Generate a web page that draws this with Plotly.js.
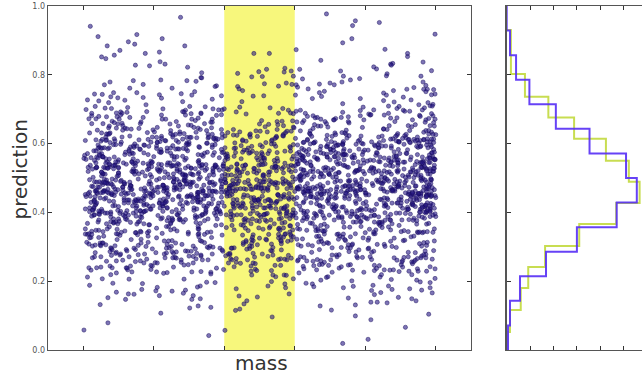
<!DOCTYPE html>
<html><head><meta charset="utf-8">
<script src="https://cdn.plot.ly/plotly-3.0.1.min.js"></script>
<style>html,body{margin:0;padding:0;overflow:hidden;background:#fff}#chart{width:700px;height:376px}</style>
</head><body><div id="chart"></div>
<script>
// mass values (x 100)
const massCenti = [
412,137,288,563,205,471,349,596,118,330,254,509,177,442,381,225,598,296,153,527,
364,102,479,250,587,311,198,433,143,556,270,395,488,161,222,534,313,109,451,372,
241,515,129,377,592,186,462,302,547,214,425,341,582,107,268,496,156,389,233,575,
318,447,174,539,282,121,406,590,237,363,498,145,259,571,336,193,427,115,482,352,
568,209,393,131,456,276,522,348,164,599,245,417,103,304,553,189,374,486,226,141,
437,292,580,172,345,513,120,401,265,474,587,208,329,150,541,418,263,385,112,506,
196,355,469,127,247,558,387,306,592,181,438,218,529,339,459,124,283,376,571,244,
503,141,317,412,585,232,367,169,494,277,551,106,398,220,341,477,593,158,286,430,
275,586,199,351,135,446,521,298,180,404,574,239,322,461,117,545,367,212,490,381,
129,420,264,537,366,101,453,304,198,581,341,147,476,256,593,213,386,519,166,309,
551,224,378,469,133,295,409,572,185,338,248,507,119,431,360,597,205,282,444,164,
397,176,512,287,591,143,336,463,230,578,122,419,303,534,192,450,261,369,104,556,
214,483,346,155,531,400,268,113,588,327,446,171,243,515,380,138,599,294,422,251,
560,318,108,437,263,584,196,371,523,149,288,468,229,346,575,125,403,187,497,339,
172,399,548,235,481,116,357,266,596,413,152,319,539,208,453,384,278,128,571,447,
333,127,466,574,206,392,297,516,161,437,587,253,364,110,489,227,349,545,178,411,
487,264,153,362,594,220,431,118,542,311,385,202,574,279,139,468,346,523,241,404,
146,579,323,251,416,107,498,368,226,561,185,438,297,524,377,159,592,281,459,215,
391,237,508,135,322,553,276,441,190,376,103,586,459,264,341,519,174,428,303,567,
262,455,111,384,587,307,167,474,245,528,358,132,596,218,433,291,549,386,154,481,
528,175,348,442,203,563,121,395,299,467,248,580,334,186,410,112,536,270,358,497,
117,395,561,276,149,485,338,229,600,413,167,520,283,452,105,364,232,575,421,314,
446,284,196,531,373,128,591,256,418,343,483,208,148,556,395,267,502,181,330,576,
309,589,432,165,262,508,384,142,460,223,571,297,413,126,538,352,255,439,592,193,
583,139,271,403,547,313,219,489,371,110,328,594,246,457,182,519,406,137,284,365,
217,482,347,121,455,279,567,191,330,526,421,159,388,245,583,301,468,214,553,104,
365,247,590,318,184,424,106,509,272,596,157,377,476,318,231,548,140,442,263,493,
492,129,226,562,397,171,344,473,115,283,533,402,194,586,354,123,267,579,179,418,
158,541,413,288,504,232,597,145,432,367,204,479,316,101,451,237,384,528,310,566,
436,320,174,478,131,386,253,551,326,189,599,261,146,407,565,281,513,196,373,229,
579,207,358,243,522,447,169,294,600,115,393,536,228,343,178,495,419,286,137,512,
269,462,125,590,308,209,523,375,436,249,133,468,562,197,327,398,111,588,246,445,
119,375,501,156,436,584,273,331,211,494,359,583,150,277,417,241,547,355,468,163,
545,236,394,318,109,552,186,427,564,148,290,212,407,536,366,126,458,232,324,594,
352,595,175,461,243,327,499,117,382,274,573,435,188,351,505,285,164,576,413,140,
201,441,280,537,389,134,228,470,557,313,165,398,242,592,122,452,337,219,549,288,
476,132,559,224,160,458,373,598,254,143,479,296,525,216,362,589,237,404,134,372,
300,521,411,103,357,269,574,192,423,505,221,364,114,448,278,176,531,391,253,467,
587,260,162,428,533,208,314,367,138,571,404,258,493,330,553,199,301,152,485,214,
144,394,477,287,592,340,435,227,513,182,297,576,131,412,249,468,383,562,337,106,
426,211,337,558,172,501,121,381,292,448,224,531,363,157,586,305,214,473,259,587,
257,568,127,404,309,237,466,565,158,358,478,110,243,546,398,127,432,343,181,529,
533,174,494,260,445,390,193,284,599,235,139,404,322,486,215,367,559,118,441,312,
182,339,581,150,236,557,408,136,339,519,373,584,196,269,430,577,253,491,204,380,
413,550,219,384,517,116,263,487,422,168,264,450,575,132,339,237,478,310,596,155,
345,104,453,597,328,181,535,349,219,445,593,174,296,426,103,519,392,147,272,533,
568,290,365,211,142,472,299,587,122,350,210,526,383,244,555,288,168,561,418,226,
236,476,152,513,403,586,204,408,527,263,495,325,133,512,446,179,594,341,491,307,
134,383,581,275,538,244,446,161,375,580,149,386,241,471,317,564,206,434,126,548,
487,211,331,443,126,368,558,296,253,196,413,577,264,138,393,453,287,513,237,377,
301,547,187,596,256,423,115,339,468,532,303,166,449,598,228,144,377,259,588,460,
566,144,425,326,482,171,520,225,590,108,360,244,518,384,276,537,415,169,340,195,
219,402,260,136,367,589,284,475,155,438,569,401,197,302,579,247,120,486,401,556,
442,592,359,487,219,313,141,545,379,253,186,492,334,561,148,424,362,566,210,282,
128,275,513,191,572,407,450,189,296,527,324,130,594,236,459,331,542,224,458,119,
380,496,232,410,293,134,540,372,600,144,455,273,387,175,497,211,296,395,173,524,
545,171,580,313,468,236,382,219,458,349,562,209,126,422,311,578,187,263,534,357,
273,349,116,548,156,501,267,594,117,257,402,540,335,268,536,446,125,439,301,467,
491,227,422,266,387,585,159,327,493,579,181,354,472,119,248,374,531,212,598,135,
154,560,297,508,213,440,344,492,234,397,130,599,222,554,369,167,459,333,241,417,
397,192,467,133,599,283,516,140,418,326,487,289,150,406,283,597,251,577,145,500,
323,431,240,367,541,175,412,211,567,162,272,425,516,237,464,125,348,406,490,266,
580,118,544,223,316,457,200,380,301,493,218,560,305,582,190,520,423,159,328,594,
197,529,350,463,109,392,569,446,183,586,376,143,457,145,332,248,567,289,446,213,
454,266,180,583,245,525,305,132,533,254,462,388,217,487,571,395,109,514,185,357,
262,376,504,315,489,160,448,249,363,137,547,238,350,128,263,445,311,230,558,431,
515,141,274,422,573,207,332,597,283,492,176,321,593,409,165,544,483,380,116,246,
140,484,588,186,351,477,111,404,162,429,296,516,122,285,433,204,348,571,470,303,
364,232,413,546,266,119,595,256,527,218,394,149,449,546,308,275,579,134,237,539,
592,319,162,291,432,347,205,485,391,350,588,260,373,193,500,130,412,299,518,178,
205,451,535,147,511,273,544,168,317,573,116,437,266,342,216,583,252,462,355,441,
431,123,390,579,199,418,338,573,124,443,287,565,183,511,377,422,156,548,208,114,
356,587,233,361,124,556,246,314,466,214,521,357,154,474,260,592,178,393,506,280,
118,270,468,224,542,388,108,423,594,151,340,481,233,553,124,337,486,267,413,568,
478,403,149,524,317,195,471,128,267,375,226,579,408,299,181,526,362,443,135,321,
247,512,389,163,574,305,441,128,596,357,219,483,138,426,551,272,394,187,530,316,
452,186,327,569,241,408,113,493,356,224,587,139,462,301,178,545,374,263,118,437,
169,538,421,284,106,362,579,245,468,197,340,512,153,597,386,232,479,325,564,208,
584,298,153,473,392,521,231,346,133,555,412,278,594,167,448,359,126,501,287,415,
331,447,592,209,138,381,486,572,254,419,117,365,529,234,306,471,583,195,440,152,
206,366,479,541,319,162,598,274,417,107,493,226,346,581,129,383,256,537,402,469,
473,123,259,386,457,593,334,184,526,289,562,413,197,268,497,148,429,308,585,244,
115,579,404,277,216,488,147,432,371,590,253,136,474,555,340,217,569,112,354,509,
398,241,536,156,595,263,517,306,171,466,330,588,254,414,182,533,287,449,226,582,
547,316,182,426,352,135,401,563,481,234,150,507,389,125,571,312,403,238,495,176,
262,428,573,339,494,228,160,455,112,328,539,277,451,589,249,462,141,376,571,321,
438,158,311,588,169,552,387,243,510,599,436,185,312,468,204,594,340,521,163,409,
126,507,442,212,281,405,598,141,337,181,266,469,569,353,133,426,218,598,304,541,
561,287,215,497,537,313,254,592,208,455,384,121,228,489,379,285,511,147,436,266,
342,586,139,368,425,178,481,377,554,117,509,326,583,172,541,109,394,272,565,188,
194,403,527,250,131,566,333,209,427,296,167,581,437,264,314,457,236,488,119,356,
519,174,385,580,296,449,106,519,289,532,407,249,160,522,405,232,586,355,213,498,
277,459,239,137,488,374,596,172,462,355,254,495,355,143,596,363,170,431,541,134,
405,123,564,322,210,527,246,438,131,580,193,396,538,293,226,514,385,127,302,578,
582,351,177,469,578,159,413,347,519,241,448,144,470,409,181,567,276,460,192,427,
150,436,293,519,242,399,524,122,310,411,576,308,204,561,325,433,153,395,503,241,
423,220,491,146,375,592,281,445,587,166,358,482,130,376,504,135,532,270,586,332,
307,545,356,592,453,129,352,586,198,459,227,554,263,497,149,391,248,598,118,465,
536,171,408,265,159,486,201,373,281,512,135,322,456,219,577,302,477,341,410,275,
229,398,131,437,513,262,573,140,423,304,489,194,593,354,264,458,114,224,547,189,
471,268,583,205,386,334,426,509,175,566,268,438,122,531,407,187,364,513,283,437,
113,505,350,471,109,557,165,297,476,246,397,582,345,198,472,536,289,154,396,563,
384,228,437,132,599,419,314,210,568,133,524,173,478,299,138,248,426,575,235,147,
565,335,189,561,278,143,492,381,245,432,311,267,545,412,561,375,193,462,523,318,
256,487,544,314,429,536,227,552,137,385,597,416,215,121,326,498,581,119,371,486,
418,149,271,408,183,295,386,125,467,521,186,537,363,584,203,145,415,290,456,211,
139,592,463,243,557,407,575,328,252,597,329,122,493,269,434,563,239,506,173,560,
502,305,112,526,328,190,150,471,394,166,458,287,174,436,574,297,370,551,326,398,
318,455,397,171,494,583,442,217,549,263,116,486,395,547,112,459,146,261,591,127,
590,213,229,576,139,354,264,585,128,440,378,210,562,318,282,389,527,430,245,476,
187,373,554,324,412,228,516,346,481,205,587,349,143,448,512,166,338,595,137,383,
441,124,295,473,262,598,171,419,300,538,263,435,527,171,369,594,221,108,412,528,
276,527,435,118,591,324,479,143,567,331,151,569,301,233,462,283,548,388,196,251,
535,284,150,398,437,193,353,505,231,396,492,216,408,587,156,427,119,470,316,589,
161,416,569,252,186,465,592,278,418,112,343,530,139,368,517,246,353,205,544,164,
401,592,338,545,301,128,242,556,162,486,219,402,587,274,424,132,573,309,464,353,
212,169,482,153,499,378,527,398,342,590,429,126,256,499,191,543,261,496,127,416,
579,361,221,437,578,252,111,192,508,271,164,559,355,143,583,372,438,233,564,283,
323,504,403,284,113,548,405,469,134,411,546,319,460,537,310,204,184,599,346,508,
458,137,577,345,226,414,166,336,595,229,382,247,123,401,227,477,590,147,410,176,
132,433,259,509,572,159,476,581,257,456,103,493,578,208,469,555,316,267,547,447,
497,312,456,168,347,531,297,221,398,175,528,360,279,567,146,326,422,524,288,116,
264,559,109,578,435,285,587,357,123,561,313,445,158,392,536,261,145,389,469,592,
546,199,394,297,165,437,128,476,512,319,194,586,416,318,250,413,501,174,233,342,
366,476,528,216,539,361,239,146,284,476,427,268,542,179,384,587,213,566,362,452
];
// prediction values (x 1000)
const predMilli = [
468,532,391,178,604,447,355,519,672,412,486,263,549,752,383,301,575,458,692,521,
437,566,329,598,402,481,244,519,371,623,456,811,388,540,297,652,417,495,583,246,
512,349,463,688,196,421,557,274,606,439,368,738,498,531,316,647,474,405,562,589,
393,528,257,614,449,372,575,104,481,336,543,420,667,462,295,592,504,411,232,469,
451,606,382,529,771,299,486,437,163,554,697,348,410,570,241,463,621,519,376,665,
514,427,302,589,475,246,639,398,535,461,366,866,487,553,325,610,430,218,681,407,
443,559,371,207,618,492,338,524,710,405,468,282,537,794,419,311,596,452,655,508,
381,497,266,603,416,472,231,548,359,627,445,727,393,511,318,660,426,483,574,347,
527,398,460,636,152,433,561,287,584,471,343,745,506,540,305,702,489,384,547,412,
462,583,339,511,378,58,621,447,294,530,404,689,476,253,596,419,543,367,488,265,
436,572,354,181,611,495,407,518,676,443,822,271,561,390,320,583,473,646,531,428,
503,418,287,597,451,369,625,238,479,542,396,759,464,558,331,584,410,218,699,487,
478,543,376,659,137,461,529,302,614,424,359,783,493,566,265,631,449,402,519,708,
415,526,308,592,458,383,246,551,437,657,362,893,497,514,341,607,470,279,576,429,
521,438,362,604,201,489,553,318,681,457,397,766,534,426,276,622,471,344,510,648,
449,562,298,610,391,163,507,424,239,573,468,687,355,537,405,594,482,261,434,376,
487,551,403,186,633,445,330,529,664,378,808,254,568,461,297,598,416,502,693,473,
372,496,252,618,441,519,387,288,564,453,734,401,482,593,336,645,413,226,547,468,
534,466,389,627,119,412,575,309,693,485,352,751,458,516,281,587,437,397,560,669,
458,589,327,531,403,476,244,616,379,502,433,847,561,296,651,418,491,264,604,395,
499,413,552,366,172,638,474,319,525,779,448,273,587,402,511,345,674,463,541,706,
421,537,284,601,466,395,229,562,443,667,371,952,488,523,313,579,408,455,630,349,
462,528,409,641,213,481,559,272,612,437,372,742,505,546,331,689,419,345,538,453,
387,512,263,583,452,88,627,419,336,544,476,698,403,571,301,479,431,249,558,364,
546,401,479,663,153,425,587,268,530,447,379,812,493,562,322,619,468,358,517,704,
433,558,306,596,410,486,251,524,382,642,461,726,397,509,343,588,474,223,615,446,
518,445,368,624,193,497,571,284,658,423,392,767,465,539,311,606,452,337,548,681,
476,531,318,612,389,452,235,567,414,671,358,873,490,528,279,590,437,501,644,403,
441,563,397,609,31,468,519,303,676,428,354,785,482,557,262,634,411,377,509,452,
503,419,292,579,463,371,618,248,535,447,744,386,494,551,329,662,408,234,592,472,
457,540,413,692,167,486,573,296,626,434,361,831,512,527,277,601,469,398,555,338,
392,516,271,628,448,413,219,574,481,654,367,716,459,533,307,597,429,344,506,612,
488,557,384,639,128,417,522,314,683,466,395,758,531,449,259,613,478,351,569,436,
427,584,336,519,402,471,253,602,438,678,381,905,497,545,289,631,415,267,556,462,
539,472,341,596,206,444,581,283,665,413,376,773,506,491,325,617,456,389,523,702,
464,529,302,587,419,486,241,553,397,641,436,796,372,512,348,606,477,225,571,409,
492,556,408,629,147,453,534,317,671,432,388,739,468,518,272,588,425,353,547,481,
418,547,323,609,471,394,236,568,446,686,359,862,502,437,297,593,459,275,528,383,
525,441,379,655,186,498,563,308,603,417,365,751,484,537,260,640,459,333,516,472,
449,578,286,532,404,467,248,619,391,663,429,713,511,552,342,601,487,229,574,368,
473,539,396,617,162,451,586,291,698,426,370,803,508,544,268,632,462,405,527,488,
406,523,311,596,478,382,242,561,435,649,357,941,495,517,329,612,454,270,583,420,
551,428,374,633,211,487,527,299,671,445,387,764,516,463,279,608,432,348,571,493,
468,592,341,514,398,66,637,456,301,548,411,704,483,262,576,437,529,383,494,246,
504,419,464,652,139,436,568,285,599,477,352,776,521,543,321,628,449,395,556,688,
431,554,297,603,469,387,232,537,412,658,446,828,364,518,337,589,482,259,572,491,
487,531,418,621,194,456,575,304,679,439,381,747,498,552,269,615,466,344,509,402,
379,508,276,596,443,421,227,567,462,645,393,722,486,529,312,611,451,335,584,470,
529,447,386,638,176,491,561,292,664,422,367,819,474,536,255,603,458,331,517,708,
452,576,318,522,409,96,627,468,287,549,431,682,497,244,591,416,538,372,481,263,
496,543,403,627,158,462,579,311,691,437,356,761,510,528,281,614,449,391,556,474,
423,561,303,608,478,398,245,534,451,672,374,884,489,515,342,593,463,227,578,410,
538,425,371,646,199,469,566,297,619,441,383,741,503,487,268,602,455,338,521,694,
461,527,322,598,414,483,239,552,396,653,438,789,377,508,351,621,472,256,583,425,
512,448,392,632,143,476,553,301,684,427,364,771,495,539,276,607,462,349,574,531,
439,568,285,586,406,459,233,541,388,661,423,707,492,519,326,615,474,267,599,372,
475,556,411,625,19,448,527,307,673,433,379,838,506,547,262,609,461,352,518,489,
397,521,271,604,465,431,228,573,446,647,384,754,482,537,316,592,457,347,511,415,
523,437,369,641,181,494,568,312,696,453,404,795,478,531,287,618,441,339,554,467,
453,582,334,527,418,476,251,611,392,666,439,918,501,546,298,590,468,262,563,381,
489,541,387,628,208,462,574,295,679,428,372,768,515,504,279,613,447,343,536,457,
414,556,307,599,483,402,243,528,459,643,376,731,494,517,331,586,436,224,607,389,
531,463,398,657,115,441,562,318,622,475,359,853,508,549,264,603,452,346,527,687,
471,593,325,516,413,438,257,624,396,669,451,748,488,538,293,579,427,238,561,403,
502,429,374,611,174,486,556,306,688,446,389,776,471,522,283,636,459,338,543,497,
436,549,294,602,463,381,246,534,418,651,477,967,392,513,336,591,452,269,572,425,
518,452,401,637,203,473,581,289,662,438,366,759,494,526,271,608,467,329,551,482,
457,567,313,596,422,489,232,541,405,675,444,817,378,509,347,618,471,261,584,393,
493,536,384,629,149,458,573,302,683,431,361,733,511,545,277,601,447,352,524,466,
409,524,288,613,476,397,253,559,442,657,428,781,487,536,341,588,459,234,597,372,
527,466,379,645,188,449,564,321,692,435,393,842,502,518,268,612,481,337,539,454,
442,571,316,593,419,484,244,548,401,664,462,727,385,514,352,627,473,228,576,406,
509,451,394,634,132,478,557,297,676,426,371,774,493,532,265,605,439,343,521,487,
424,563,328,587,467,389,239,536,448,671,413,905,496,507,305,619,458,273,582,377,
476,548,406,622,178,453,569,311,687,432,383,796,505,541,259,609,464,347,528,491,
483,527,401,233,619,458,345,561,714,394,472,185,538,681,427,312,588,449,797,506,
446,573,362,612,419,492,268,535,393,638,461,736,402,551,304,675,431,128,579,259,
519,367,471,701,212,437,546,288,597,453,381,823,490,528,336,664,466,418,553,158,
401,535,279,627,455,362,584,231,494,347,561,426,742,478,310,603,517,409,196,688,
467,598,388,522,779,316,493,441,147,568,708,359,423,585,253,476,633,510,391,871,
522,433,297,576,484,238,651,406,543,455,372,761,495,561,331,623,442,205,694,416,
455,566,384,192,631,484,347,517,725,411,473,269,544,806,426,321,605,463,662,502,
392,508,259,616,428,481,224,557,367,638,452,719,399,526,328,671,437,476,591,173,
534,409,472,652,166,445,572,279,593,461,354,758,511,549,311,709,483,392,536,837,
474,587,343,527,386,79,615,452,305,542,417,683,469,241,607,426,556,378,497,748,
445,561,366,218,622,501,397,528,688,451,833,262,574,408,337,596,481,655,539,157,
511,427,296,605,467,378,632,247,484,553,403,772,471,566,326,591,419,212,705,495,
486,552,383,671,124,468,537,291,628,433,368,796,501,574,258,644,457,412,527,721,
409,534,317,599,463,391,227,545,428,669,355,911,488,521,348,614,478,284,583,186,
528,445,373,611,192,497,562,326,697,462,404,754,540,431,268,631,478,336,517,862,
456,571,307,604,398,149,514,436,245,583,477,698,362,544,412,602,489,272,428,739,
493,543,412,174,641,453,336,521,682,387,816,248,575,469,306,609,421,509,701,226,
381,503,262,628,447,521,392,296,571,461,741,408,489,597,342,656,419,233,552,884,
541,473,395,634,107,418,584,316,703,492,345,772,466,523,286,593,444,403,566,679,
463,596,335,537,409,483,236,621,387,509,441,857,568,302,658,425,498,271,612,184,
507,418,559,371,165,646,483,327,532,788,455,281,593,409,518,352,683,471,549,722,
428,544,291,597,471,402,221,569,449,676,378,943,496,531,319,585,414,462,638,143,
469,521,413,652,226,488,563,278,619,443,379,735,512,553,337,697,426,352,544,811,
394,517,271,589,457,99,634,426,343,551,482,706,411,578,309,486,439,253,565,197,
553,408,486,671,161,431,592,275,537,454,386,826,498,569,329,626,475,367,522,713,
441,567,312,603,416,493,258,531,389,649,468,737,404,516,351,595,481,231,627,452,
526,451,374,631,188,502,578,291,664,429,398,779,472,546,318,613,459,342,555,694,
483,536,323,619,396,461,242,574,421,678,367,889,493,535,286,597,444,508,651,168,
447,572,405,611,42,474,526,309,683,437,362,792,489,563,271,641,418,385,513,468,
509,426,298,586,469,377,625,256,541,452,757,393,501,558,334,669,415,239,599,131,
462,547,419,697,176,491,578,303,632,438,367,828,517,534,283,608,475,402,562,732,
396,521,277,629,457,418,229,581,488,661,372,724,466,539,314,604,436,351,511,862,
491,563,389,643,134,423,529,321,689,471,402,766,536,458,266,617,484,344,575,207,
437,581,349,526,412,474,255,608,398,674,431,957,518,553,336,594,459,281,567,743,
545,479,352,602,219,447,591,288,658,416,381,785,503,497,327,636,442,394,529,151,
471,533,318,594,428,489,237,559,403,647,446,809,381,514,343,622,467,264,588,702,
504,442,396,639,183,466,571,306,701,427,359,748,491,542,276,613,452,338,523,874,
418,558,292,611,479,393,248,536,456,686,374,763,497,521,322,589,438,217,604,122,
536,461,381,648,203,482,549,296,627,444,408,831,508,476,261,602,465,357,574,719,
453,577,331,513,426,491,242,619,387,658,435,741,484,531,307,597,471,182,563,896,
497,419,367,624,57,458,586,319,691,432,376,771,521,539,284,609,448,403,542,667,
425,546,308,598,466,401,233,563,443,673,358,852,488,512,341,621,477,269,587,194,
531,468,385,651,198,474,559,313,684,439,392,758,505,527,277,615,453,346,518,729,
469,581,322,521,407,482,262,606,398,661,428,804,493,547,296,586,441,236,572,139,
512,433,401,637,171,452,569,302,709,465,369,783,489,536,268,623,474,338,557,917,
442,553,294,605,477,388,247,544,413,669,452,731,401,518,337,598,463,276,583,213,
519,461,378,642,154,496,574,317,687,434,399,816,508,529,281,611,446,356,537,744,
458,571,326,591,421,479,229,558,394,652,437,977,487,523,349,617,468,262,579,181,
536,448,392,628,206,471,562,306,698,427,364,769,514,541,273,604,456,341,526,862,
413,531,301,609,462,397,255,547,438,678,383,791,496,512,328,596,479,219,571,116
];
const massTicks = [1, 2, 3, 4, 5, 6];
const predTicks = [0.0, 0.2, 0.4, 0.6, 0.8, 1.0];
const bandRange = [3, 4];
// histogram of all predictions (normalised)
const allBinEdges = [0, 0.0714, 0.1429, 0.2143, 0.2857, 0.3571, 0.4286, 0.5, 0.5714, 0.6429, 0.7143, 0.7857, 0.8571, 0.9286, 1.0];
const allDensity = [0.028, 0.07, 0.284, 0.84, 1.50, 2.35, 2.78, 2.55, 1.77, 1.05, 0.485, 0.2, 0.07, 0];
// histogram of predictions inside the band
const bandBinEdges = [0.0, 0.052, 0.116, 0.180, 0.241, 0.302, 0.366, 0.427, 0.489, 0.550, 0.614, 0.676, 0.736, 0.802, 0.866, 0.93];
const bandDensity = [0.015, 0.07, 0.30, 0.46, 0.82, 1.55, 2.34, 2.84, 2.61, 2.12, 1.44, 0.89, 0.39, 0.09, 0.09];

const mass = massCenti.map(v => v / 100);
const pred = predMilli.map(v => v / 1000);

function stepOutline(edges, dens) {
  const xs = [0], ys = [edges[0]];
  for (let i = 0; i < dens.length; i++) { xs.push(dens[i]); ys.push(edges[i]); }
  xs.push(0); ys.push(edges[edges.length - 1]);
  return {xs, ys};
}
const sAll = stepOutline(allBinEdges, allDensity);
const sBand = stepOutline(bandBinEdges, bandDensity);

const FONT = 'DejaVu Sans, sans-serif';
const traces = [
  {type: 'scatter', mode: 'markers', x: mass, y: pred, xaxis: 'x', yaxis: 'y',
   marker: {size: 4.2, color: 'rgba(38,24,132,0.6)', line: {width: 0.6, color: 'rgba(20,10,90,0.75)'}},
   hoverinfo: 'skip'},
  {type: 'scatter', mode: 'lines', x: sBand.xs, y: sBand.ys, xaxis: 'x2', yaxis: 'y2',
   line: {shape: 'vh', color: 'rgba(190,215,50,0.85)', width: 2}},
  {type: 'scatter', mode: 'lines', x: sAll.xs, y: sAll.ys, xaxis: 'x2', yaxis: 'y2',
   line: {shape: 'vh', color: 'rgba(85,45,245,0.9)', width: 2}}
];
const axBase = {showgrid: false, zeroline: false, showline: true, linecolor: '#555', linewidth: 1.3,
  mirror: 'ticks', ticks: 'inside', ticklen: 4, tickwidth: 1, tickcolor: '#333'};
const layout = {
  width: 700, height: 376,
  margin: {l: 0, r: 0, t: 6, b: 26},
  paper_bgcolor: '#fff', plot_bgcolor: '#fff',
  showlegend: false,
  font: {family: FONT, color: '#333'},
  xaxis: Object.assign({}, axBase, {domain: [48/700, 471/700], range: [0.5, 6.5], tickvals: massTicks, showticklabels: false, anchor: 'y'}),
  yaxis: Object.assign({}, axBase, {range: [0, 1], tickvals: predTicks, tickformat: '.1f', anchor: 'x',
    tickfont: {family: FONT, size: 8, color: '#555'}}),
  xaxis2: Object.assign({}, axBase, {domain: [506.7/700, 1], range: [0, (700-506.7)/46.8], dtick: 0.5, showticklabels: false, anchor: 'y2'}),
  yaxis2: Object.assign({}, axBase, {range: [0, 1], tickvals: predTicks, showticklabels: false, anchor: 'x2'}),
  shapes: [{type: 'rect', xref: 'x', yref: 'paper', x0: bandRange[0], x1: bandRange[1], y0: 0, y1: 1,
    fillcolor: '#f7f77c', line: {width: 0}, layer: 'below'}],
  annotations: [
    {text: 'prediction', xref: 'paper', yref: 'paper', x: 19.5/700, y: (350-170)/344, textangle: -90,
     showarrow: false, font: {family: FONT, size: 20, color: '#333'}, xanchor: 'center', yanchor: 'middle'},
    {text: 'mass', xref: 'paper', yref: 'paper', x: 261/700, y: (350-363)/344,
     showarrow: false, font: {family: FONT, size: 20, color: '#333'}, xanchor: 'center', yanchor: 'middle'}
  ]
};
Plotly.newPlot('chart', traces, layout, {staticPlot: true, displayModeBar: false});
</script></body></html>
